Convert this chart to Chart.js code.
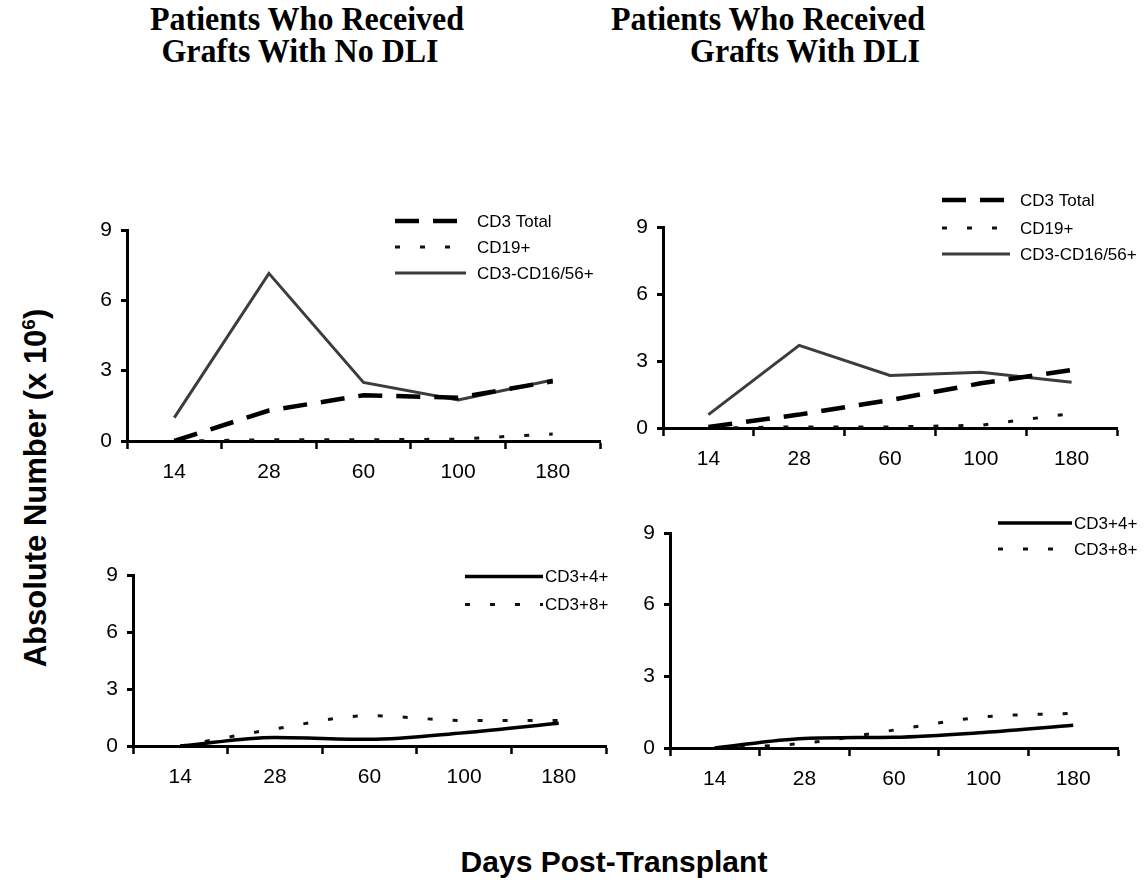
<!DOCTYPE html>
<html>
<head>
<meta charset="utf-8">
<script src="https://cdn.jsdelivr.net/npm/chart.js@4.4.1/dist/chart.umd.min.js"></script>
<style>
  html, body { margin: 0; padding: 0; background: #fff; }
  body { width: 1147px; height: 882px; position: relative; overflow: hidden; }
  .ttl { position: absolute; font-family: "Liberation Serif", "Times New Roman", serif; font-weight: bold;
         font-size: 32px; color: #000; white-space: nowrap; transform: translate(-50%, -50%) scaleY(1.08); }
  .pan { position: absolute; }
  .ax { position: absolute; font-family: "Liberation Sans", Arial, sans-serif; font-weight: bold; font-size: 30px;
        color: #000; white-space: nowrap; }
</style>
</head>
<body>
<div class="ttl" style="left:307px; top:19px;">Patients Who Received</div>
<div class="ttl" style="left:300px; top:51px;">Grafts With No DLI</div>
<div class="ttl" style="left:768px; top:19px;">Patients Who Received</div>
<div class="ttl" style="left:805px; top:51px;">Grafts With DLI</div>

<div class="ax" style="left:36px; top:488px; font-size:31px; transform: translate(-50%, -50%) rotate(-90deg);">Absolute Number (x 10<sup style="font-size:19px;">6</sup>)</div>
<div class="ax" style="left:614px; top:862px; transform: translate(-50%, -50%);">Days Post-Transplant</div>

<div class="pan" id="p1"><canvas id="c1"></canvas></div>
<div class="pan" id="p2"><canvas id="c2"></canvas></div>
<div class="pan" id="p3"><canvas id="c3"></canvas></div>
<div class="pan" id="p4"><canvas id="c4"></canvas></div>

<script>
// ---- data ----
const days = ['14', '28', '60', '100', '180'];
const yTicks = [0, 3, 6, 9];

const noDliCd3Total = [0, 1.3, 1.95, 1.85, 2.55];
const noDliCd19 = [0, 0.05, 0.05, 0.08, 0.3];
const noDliNk = [1.0, 7.15, 2.5, 1.75, 2.6];

const dliCd3Total = [0.05, 0.6, 1.25, 2.0, 2.6];
const dliCd19 = [0, 0.05, 0.05, 0.12, 0.65];
const dliNk = [0.6, 3.7, 2.35, 2.5, 2.05];

const noDliCd4 = [0, 0.45, 0.35, 0.7, 1.2];
const noDliCd8 = [0, 0.9, 1.6, 1.35, 1.35];

const dliCd4 = [0, 0.4, 0.45, 0.65, 0.95];
const dliCd8 = [0, 0.2, 0.75, 1.3, 1.45];

// ---- styles ----
const S = {
  cd3Total: { borderColor: '#000', borderWidth: 4.5, borderDash: [24, 14] },
  cd19:     { borderColor: '#111', borderWidth: 3, borderDash: [5, 20] },
  nk:       { borderColor: '#3c3c3c', borderWidth: 3, borderDash: [] },
  cd4:      { borderColor: '#000', borderWidth: 3.5, borderDash: [] },
  cd8:      { borderColor: '#111', borderWidth: 3, borderDash: [5, 20] }
};

const inlineLegend = {
  id: 'inlineLegend',
  afterDraw(chart, args, opts) {
    const { ctx, chartArea } = chart;
    chart.data.datasets.forEach((ds, i) => {
      const y = chartArea.top + opts.rows[i];
      const x0 = chartArea.left + opts.x;
      ctx.save();
      ctx.strokeStyle = ds.borderColor;
      ctx.lineWidth = ds.borderWidth;
      ctx.setLineDash(ds.borderDash || []);
      ctx.beginPath();
      ctx.moveTo(x0, y);
      ctx.lineTo(x0 + opts.len, y);
      ctx.stroke();
      ctx.setLineDash([]);
      ctx.fillStyle = '#000';
      ctx.font = '17px "Liberation Sans", Arial, sans-serif';
      ctx.textBaseline = 'middle';
      ctx.textAlign = 'left';
      ctx.fillText(ds.label, x0 + opts.textX, y + 1);
      ctx.restore();
    });
  }
};

function makePanel(id, geo, datasets, legend, tension) {
  const YW = 60, XH = 50;
  const left = geo.axisLeft - YW;
  const top = geo.top9 - geo.padTop;
  const width = geo.canvasRight - left;
  const height = geo.bottom0 + XH - top;
  const pan = document.getElementById('p' + id);
  pan.style.left = left + 'px';
  pan.style.top = top + 'px';
  const cv = document.getElementById('c' + id);
  cv.width = width; cv.height = height;
  cv.style.width = width + 'px'; cv.style.height = height + 'px';

  new Chart(cv, {
    type: 'line',
    data: {
      labels: days,
      datasets: datasets.map(d => Object.assign({
        label: d.label, data: d.data, pointRadius: 0, fill: false,
        tension: tension, cubicInterpolationMode: tension ? 'monotone' : 'default'
      }, d.style))
    },
    options: {
      responsive: false,
      animation: false,
      layout: { padding: { top: geo.padTop, right: geo.canvasRight - geo.axisRight, left: 0, bottom: 0 } },
      plugins: { legend: { display: false }, tooltip: { enabled: false }, inlineLegend: legend },
      scales: {
        x: {
          type: 'category',
          offset: true,
          afterFit(s) { s.height = XH; },
          grid: { offset: true, drawOnChartArea: false, drawTicks: true, tickLength: 8, tickWidth: 2.5, tickColor: '#000' },
          border: { display: true, color: '#000', width: 3 },
          ticks: { color: '#000', padding: 11, font: { family: '"Liberation Sans", Arial, sans-serif', size: 21 }, maxRotation: 0 }
        },
        y: {
          min: 0, max: 9,
          afterFit(s) { s.width = YW; },
          afterBuildTicks(s) { s.ticks = yTicks.map(v => ({ value: v })); },
          grid: { drawOnChartArea: false, drawTicks: true, tickLength: 6, tickWidth: 3, tickColor: '#000' },
          border: { display: true, color: '#000', width: 3 },
          ticks: { color: '#000', padding: 9, font: { family: '"Liberation Sans", Arial, sans-serif', size: 21 } }
        }
      }
    },
    plugins: [inlineLegend]
  });
}

makePanel(1, { axisLeft: 127, top9: 230, bottom0: 441, axisRight: 600, canvasRight: 610, padTop: 28 }, [
  { label: 'CD3 Total', data: noDliCd3Total, style: S.cd3Total },
  { label: 'CD19+', data: noDliCd19, style: S.cd19 },
  { label: 'CD3-CD16/56+', data: noDliNk, style: S.nk }
], { x: 268, rows: [-9, 17, 43], len: 71, textX: 82 }, 0);

makePanel(2, { axisLeft: 663, top9: 227, bottom0: 428, axisRight: 1117, canvasRight: 1147, padTop: 45 }, [
  { label: 'CD3 Total', data: dliCd3Total, style: S.cd3Total },
  { label: 'CD19+', data: dliCd19, style: S.cd19 },
  { label: 'CD3-CD16/56+', data: dliNk, style: S.nk }
], { x: 279, rows: [-27, 1, 27], len: 68, textX: 78 }, 0);

makePanel(3, { axisLeft: 133, top9: 574, bottom0: 746, axisRight: 606, canvasRight: 615, padTop: 20 }, [
  { label: 'CD3+4+', data: noDliCd4, style: S.cd4 },
  { label: 'CD3+8+', data: noDliCd8, style: S.cd8 }
], { x: 332, rows: [1, 29], len: 78, textX: 80 }, 0.3);

makePanel(4, { axisLeft: 670, top9: 533, bottom0: 748, axisRight: 1118, canvasRight: 1147, padTop: 25 }, [
  { label: 'CD3+4+', data: dliCd4, style: S.cd4 },
  { label: 'CD3+8+', data: dliCd8, style: S.cd8 }
], { x: 328, rows: [-10, 16], len: 74, textX: 76 }, 0.3);
</script>
</body>
</html>
